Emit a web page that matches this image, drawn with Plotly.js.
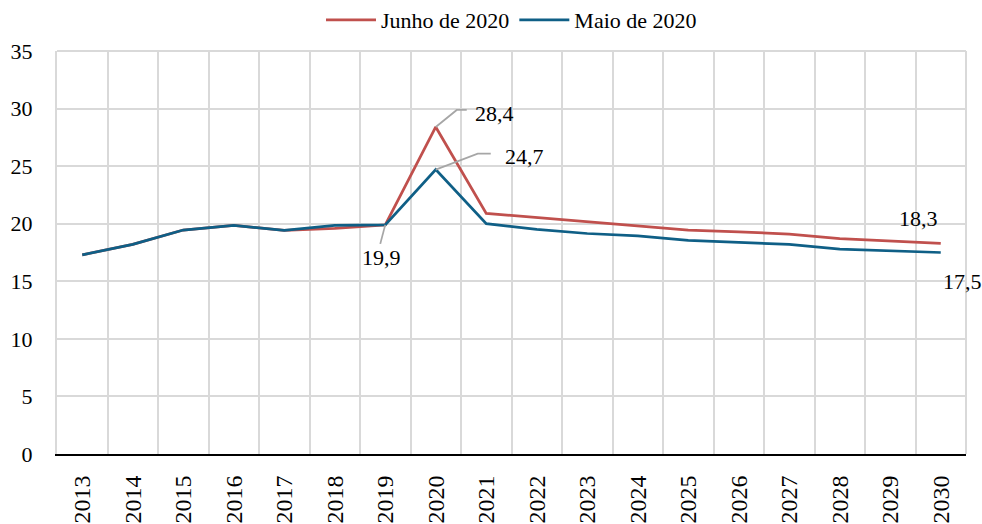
<!DOCTYPE html>
<html>
<head>
<meta charset="utf-8">
<script src="https://cdn.plot.ly/plotly-3.0.1.min.js"></script>
<style>html,body{margin:0;padding:0;background:#fff}#chart{width:982px;height:524px}</style>
</head>
<body>
<div id="chart"></div>
<script>
var years = ['2013','2014','2015','2016','2017','2018','2019','2020','2021','2022','2023','2024','2025','2026','2027','2028','2029','2030'];
var junho = [17.3, 18.2, 19.45, 19.86, 19.43, 19.6, 19.9, 28.4, 20.9, 20.55, 20.2, 19.85, 19.45, 19.3, 19.1, 18.7, 18.5, 18.3];
var maio  = [17.3, 18.2, 19.45, 19.86, 19.43, 19.85, 19.9, 24.7, 20.0, 19.5, 19.15, 18.95, 18.55, 18.35, 18.2, 17.8, 17.65, 17.5];
var yTicks = [0, 5, 10, 15, 20, 25, 30, 35];

var FONT = 'Liberation Serif, Times New Roman, serif';
var gray = '#a6a6a6';
function idx(y) { return years.indexOf(y); }

var traces = [
  {x: years, y: junho, name: 'Junho de 2020', type: 'scatter', mode: 'lines',
   line: {color: '#C0504D', width: 2.75}},
  {x: years, y: maio, name: 'Maio de 2020', type: 'scatter', mode: 'lines',
   line: {color: '#0F5F86', width: 2.75}}
];

function leader(xi, yval, path) {
  return {type: 'path', xref: 'x', yref: 'y', xsizemode: 'pixel', ysizemode: 'pixel',
          xanchor: xi, yanchor: yval, path: path, line: {color: gray, width: 1.75}};
}
function label(xi, yval, txt, xs, ys, xa) {
  return {x: xi, y: yval, xref: 'x', yref: 'y', text: txt, showarrow: false,
          xanchor: xa || 'left', yanchor: 'middle', xshift: xs, yshift: ys,
          font: {family: FONT, size: 22, color: '#000'}};
}

var layout = {
  width: 982, height: 524,
  margin: {l: 57, r: 16, t: 51, b: 70},
  paper_bgcolor: '#fff', plot_bgcolor: '#fff',
  showlegend: true,
  legend: {orientation: 'h', x: 0.5, xanchor: 'center', yref: 'container', y: 1 - 20/524, yanchor: 'middle',
           font: {family: FONT, size: 22, color: '#000'}, itemwidth: 50, traceorder: 'normal'},
  xaxis: {type: 'category', categoryorder: 'array', categoryarray: years, range: [-0.5, years.length - 0.5],
          tickson: 'boundaries', showgrid: true, gridcolor: '#d9d9d9', gridwidth: 2,
          tickangle: -90, ticks: '', ticklabelstandoff: 10,
          showline: true, linecolor: '#000', linewidth: 2, mirror: false,
          tickfont: {family: FONT, size: 24, color: '#000'}, fixedrange: true},
  yaxis: {range: [0, 35], tickvals: yTicks, ticktext: yTicks.map(String), showgrid: true,
          gridcolor: '#d9d9d9', gridwidth: 2, zeroline: false, ticks: '', ticklabelstandoff: 18,
          showline: true, linecolor: '#d9d9d9', linewidth: 2,
          tickfont: {family: FONT, size: 22, color: '#000'}, fixedrange: true},
  shapes: [
    leader(idx('2020'), junho[idx('2020')], 'M0,0L21,17L31,17'),
    leader(idx('2020'), maio[idx('2020')], 'M0,0L42,16L55,16'),
    leader(idx('2019'), maio[idx('2019')], 'M0,0L-5,-19'),
    {type: 'line', xref: 'paper', yref: 'paper', x0: 1, x1: 1, y0: 0, y1: 1, line: {color: '#d9d9d9', width: 2}},
    {type: 'line', xref: 'paper', yref: 'paper', x0: 0, x1: 1, y0: 1, y1: 1, line: {color: '#d9d9d9', width: 2}}
  ],
  annotations: [
    label(idx('2020'), junho[idx('2020')], '28,4', 37, 13),
    label(idx('2020'), maio[idx('2020')], '24,7', 67, 13),
    label(idx('2019'), maio[idx('2019')], '19,9', -4, -33, 'center'),
    label(idx('2030'), junho[idx('2030')], '18,3', -22, 25, 'center'),
    label(idx('2030'), maio[idx('2030')], '17,5', 0, -29, 'left')
  ],
  hovermode: false
};

Plotly.newPlot('chart', traces, layout, {displayModeBar: false, staticPlot: true});
</script>
</body>
</html>
